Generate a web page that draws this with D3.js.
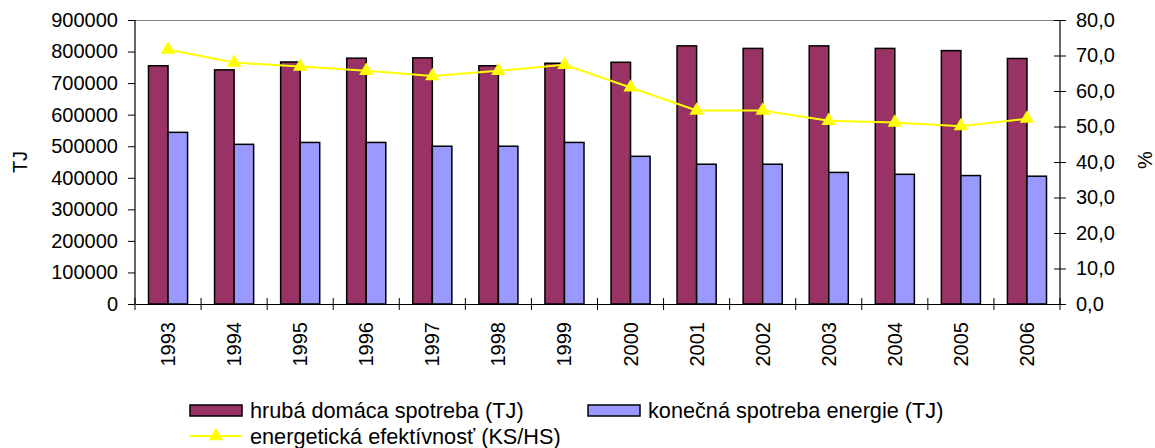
<!DOCTYPE html>
<html>
<head>
<meta charset="utf-8">
<script src="https://cdn.jsdelivr.net/npm/d3@7"></script>
<style>
    body { margin: 0; background: #fff; }
    text { font-family: "Liberation Sans", Arial, sans-serif; fill: #000; }
</style>
</head>
<body>
<svg id="chart"></svg>
<script>
// chart data
const years = ["1993", "1994", "1995", "1996", "1997", "1998", "1999",
    "2000", "2001", "2002", "2003", "2004", "2005", "2006"];
const grossConsumption = [755000, 742000, 767000, 779000, 780000, 755000, 763000,
    766000, 818000, 810000, 818000, 810000, 803000, 778000];
const finalConsumption = [544000, 506000, 512000, 512000, 500000, 500000, 512000,
    468000, 443000, 443000, 417000, 411000, 407000, 405000];
const efficiency = [71.7, 68.0, 66.9, 65.7, 64.2, 65.7, 67.4,
    61.0, 54.5, 54.5, 51.6, 51.1, 50.1, 52.2];
const leftTicks = [0, 100000, 200000, 300000, 400000, 500000, 600000, 700000, 800000, 900000];
const rightTicks = [0, 10, 20, 30, 40, 50, 60, 70, 80];
const seriesNames = ["hrubá domáca spotreba (TJ)", "konečná spotreba energie (TJ)", "energetická efektívnosť (KS/HS)"];

const config = {
    containerWidth: 1155,
    containerHeight: 448,
    margin: { top: 20, right: 95, bottom: 144, left: 135 },
    fontSize: 20,
    legendFontSize: 21.7,
    colors: ["#993366", "#9999FF", "#FFFF00"],
};

const width = config.containerWidth - config.margin.left - config.margin.right;
const height = config.containerHeight - config.margin.top - config.margin.bottom;

const svg = d3.select("#chart")
    .attr("width", config.containerWidth)
    .attr("height", config.containerHeight);

const chart = svg.append("g")
    .attr("transform", `translate(${config.margin.left}, ${config.margin.top})`);

const xScale = d3.scaleBand().domain(years).range([0, width]).paddingInner(0).paddingOuter(0);
const innerScale = d3.scaleBand().domain([0, 1]).range([13.5, xScale.bandwidth() - 13.5]);
const yLeft = d3.scaleLinear().domain([0, 900000]).range([height, 0]);
const yRight = d3.scaleLinear().domain([0, 80]).range([height, 0]);

// plot border on top
chart.append("line")
    .attr("x1", 0).attr("x2", width)
    .attr("y1", 0.5).attr("y2", 0.5)
    .attr("stroke", "#808080");

// bars
const seriesValues = [grossConsumption, finalConsumption];
seriesValues.forEach((values, si) => {
    chart.selectAll(`.bar-${si}`)
        .data(values)
        .join("rect")
        .attr("class", `bar-${si}`)
        .attr("x", (d, i) => xScale(years[i]) + innerScale(si))
        .attr("y", (d) => yLeft(d))
        .attr("width", innerScale.bandwidth())
        .attr("height", (d) => height - yLeft(d))
        .attr("fill", config.colors[si])
        .attr("stroke", "#000")
        .attr("stroke-width", 1.5);
});

// axes
const leftAxis = d3.axisLeft(yLeft).tickValues(leftTicks).tickFormat(d3.format("d")).tickSize(7).tickPadding(10);
const rightAxis = d3.axisRight(yRight).tickValues(rightTicks)
    .tickFormat((d) => d3.format(".1f")(d).replace(".", ",")).tickSize(6).tickPadding(10);
const bottomAxis = d3.axisBottom(xScale).tickValues([]).tickSizeOuter(0);

const gLeft = chart.append("g").call(leftAxis);
const gRight = chart.append("g").attr("transform", `translate(${width},0)`).call(rightAxis);
const gBottom = chart.append("g").attr("transform", `translate(0,${height})`).call(bottomAxis);

[gLeft, gRight, gBottom].forEach((g) => {
    g.select(".domain").attr("stroke", "#000").attr("stroke-width", 1.2);
    g.selectAll(".tick line").attr("stroke", "#000");
    g.selectAll("text").attr("font-size", config.fontSize).attr("font-family", "Liberation Sans, Arial, sans-serif");
});
gRight.selectAll(".tick line").attr("x1", -6);
gLeft.select(".domain").attr("d", `M0,${height}V0`);
gRight.select(".domain").attr("d", `M0,${height}V0`);

// category separator ticks (crossing the baseline)
gBottom.selectAll(".sep")
    .data(years.concat(["end"]))
    .join("line")
    .attr("class", "sep")
    .attr("x1", (d, i) => i * xScale.bandwidth())
    .attr("x2", (d, i) => i * xScale.bandwidth())
    .attr("y1", -6).attr("y2", 6)
    .attr("stroke", "#000");

// rotated year labels
gBottom.selectAll(".year")
    .data(years)
    .join("text")
    .attr("class", "year")
    .attr("transform", (d) => `translate(${xScale(d) + xScale.bandwidth() / 2 + 7},18) rotate(-90)`)
    .attr("text-anchor", "end")
    .attr("font-size", config.fontSize)
    .text((d) => d);

// efficiency line
const line = d3.line()
    .x((d, i) => xScale(years[i]) + xScale.bandwidth() / 2)
    .y((d) => yRight(d));

chart.append("path")
    .datum(efficiency)
    .attr("d", line)
    .attr("fill", "none")
    .attr("stroke", config.colors[2])
    .attr("stroke-width", 2);

const triangle = d3.symbol().type(d3.symbolTriangle).size(90);
chart.selectAll(".marker")
    .data(efficiency)
    .join("path")
    .attr("class", "marker")
    .attr("d", triangle)
    .attr("transform", (d, i) => `translate(${xScale(years[i]) + xScale.bandwidth() / 2},${yRight(d)})`)
    .attr("fill", config.colors[2]);

// axis titles
svg.append("text")
    .attr("transform", `translate(27,${config.margin.top + height / 2}) rotate(-90)`)
    .attr("text-anchor", "middle")
    .attr("font-size", config.fontSize)
    .text("TJ");

svg.append("text")
    .attr("transform", `translate(1152,${config.margin.top + height / 2 - 2}) rotate(-90)`)
    .attr("text-anchor", "middle")
    .attr("font-size", config.fontSize)
    .text("%");

// legend
const legend = svg.append("g");
const legendItems = [
    { x: 190, y: 410, type: "rect", color: config.colors[0], label: seriesNames[0] },
    { x: 588, y: 410, type: "rect", color: config.colors[1], label: seriesNames[1] },
    { x: 190, y: 436, type: "line", color: config.colors[2], label: seriesNames[2] },
];
legendItems.forEach((item) => {
    const g = legend.append("g").attr("transform", `translate(${item.x},${item.y})`);
    if (item.type === "rect") {
        g.append("rect")
            .attr("x", 0).attr("y", -5)
            .attr("width", 52).attr("height", 11)
            .attr("fill", item.color)
            .attr("stroke", "#000")
            .attr("stroke-width", 1.5);
    } else {
        g.append("line")
            .attr("x1", 0).attr("x2", 52)
            .attr("y1", 0).attr("y2", 0)
            .attr("stroke", item.color)
            .attr("stroke-width", 2);
        g.append("path")
            .attr("d", triangle)
            .attr("transform", "translate(26,0)")
            .attr("fill", item.color);
    }
    g.append("text")
        .attr("x", 60)
        .attr("y", 8)
        .attr("font-size", config.legendFontSize)
        .text(item.label);
});
</script>
</body>
</html>
